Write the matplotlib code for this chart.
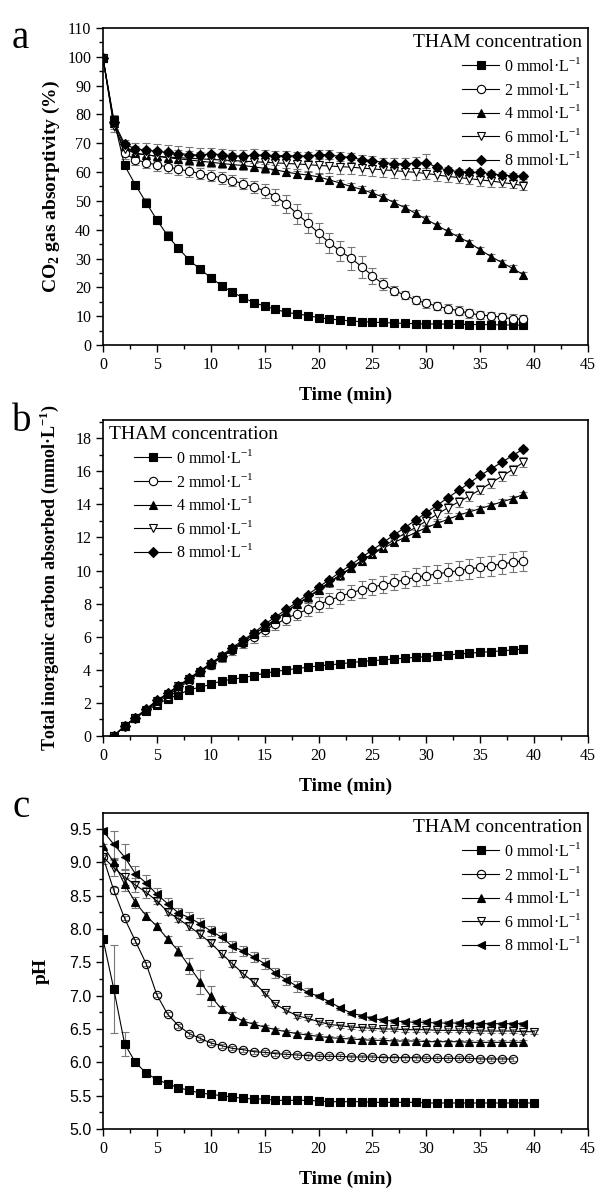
import matplotlib
matplotlib.use("Agg")
import matplotlib.pyplot as plt
from matplotlib.ticker import MultipleLocator

plt.rcParams['font.family'] = ['Liberation Serif', 'DejaVu Serif']
plt.rcParams['mathtext.fontset'] = 'custom'
plt.rcParams['mathtext.rm'] = 'Liberation Serif'
plt.rcParams['mathtext.bf'] = 'Liberation Serif:bold'

# ---- panel a: CO2 gas absorptivity (%) ----
a_t = list(range(0, 40))
a_sq = [99.5, 78.2, 62.3, 55.6, 49.4, 43.4, 37.9, 33.5, 29.5, 26.3,
        23.4, 20.6, 18.3, 16.4, 14.7, 13.5, 12.4, 11.3, 10.8, 10.2,
        9.5, 9.0, 8.7, 8.3, 8.1, 7.9, 7.8, 7.6, 7.5, 7.4,
        7.3, 7.3, 7.2, 7.2, 7.1, 7.1, 7.0, 7.0, 6.9, 6.9]
a_ci = [99.5, 77.0, 66.5, 64.3, 63.3, 62.5, 61.8, 61.0, 60.3, 59.5,
        58.8, 58.0, 57.0, 56.0, 54.8, 53.5, 51.5, 49.0, 45.5, 42.3,
        38.8, 35.5, 32.6, 30.1, 27.2, 24.0, 21.1, 18.9, 17.3, 15.6,
        14.5, 13.5, 12.6, 11.9, 11.0, 10.4, 10.1, 9.6, 9.1, 8.9]
a_tu = [99.5, 77.0, 69.0, 66.5, 66.0, 65.5, 65.0, 64.6, 64.2, 63.8,
        63.4, 63.0, 62.6, 62.3, 61.8, 61.3, 60.8, 60.0, 59.4, 59.0,
        58.3, 57.3, 56.2, 55.0, 54.0, 52.7, 51.3, 49.4, 47.7, 45.7,
        43.6, 41.5, 39.4, 37.5, 35.5, 33.0, 30.7, 28.6, 26.6, 24.4]
a_td = [99.5, 76.0, 68.0, 66.5, 66.0, 65.5, 65.2, 65.0, 64.8, 64.6,
        64.4, 64.2, 64.0, 63.8, 63.6, 63.4, 63.2, 63.0, 62.8, 62.6,
        62.3, 62.1, 61.9, 61.7, 61.4, 61.1, 60.8, 60.5, 60.2, 59.9,
        59.5, 59.0, 58.5, 58.1, 57.7, 57.3, 56.9, 56.4, 55.9, 55.3]
a_di = [99.5, 77.5, 69.8, 68.0, 67.6, 67.2, 66.8, 66.4, 66.1, 65.9,
        66.4, 66.0, 65.7, 65.5, 66.0, 65.8, 65.7, 65.7, 65.6, 65.6,
        66.0, 66.0, 65.4, 65.1, 64.3, 64.0, 63.3, 62.9, 62.9, 63.1,
        63.3, 61.6, 60.6, 60.2, 59.9, 59.9, 59.4, 59.0, 58.7, 58.5]
a_e_sq = [0.5, 1.5, 1.0, 1.0, 1.5, 1.5, 1.5, 1.2, 1.2, 1.2,
          1.2, 1.0, 0.8, 0.8, 0.6, 0.6, 0.5, 0.5, 0.5, 0.5,
          0.5, 0.4, 0.4, 0.4, 0.4, 0.4, 0.4, 0.4, 0.4, 0.4,
          0.4, 0.4, 0.4, 0.4, 0.4, 0.4, 0.4, 0.4, 0.4, 0.4]
a_e_ci = [0.5, 2.0, 2.0, 2.0, 2.0, 2.0, 2.0, 2.0, 2.0, 2.0,
          2.0, 2.0, 2.0, 2.0, 2.0, 2.5, 2.8, 3.2, 3.5, 3.5,
          3.5, 3.5, 3.5, 4.0, 3.8, 2.8, 2.0, 1.5, 1.5, 1.5,
          1.5, 1.5, 1.5, 1.5, 1.5, 1.5, 1.5, 1.5, 1.5, 1.5]
a_e_tu = [0.5, 1.5, 1.5, 1.5, 1.5, 1.5, 1.5, 1.5, 1.5, 1.5,
          1.5, 1.5, 1.5, 1.5, 1.5, 1.5, 1.5, 1.5, 1.5, 1.5,
          1.2, 1.2, 1.2, 1.2, 1.2, 1.0, 1.0, 1.0, 1.0, 1.0,
          1.0, 1.0, 1.0, 1.0, 1.0, 1.0, 1.0, 1.0, 1.0, 1.0]
a_e_td = [0.5, 2.0, 2.5, 2.5, 2.5, 2.5, 2.5, 2.5, 2.5, 2.5,
          2.5, 2.5, 2.5, 2.5, 2.5, 2.5, 2.5, 2.5, 2.5, 2.5,
          2.5, 2.5, 2.5, 2.5, 2.5, 2.5, 2.5, 2.5, 2.5, 2.5,
          2.0, 2.0, 2.0, 2.0, 2.0, 2.0, 2.0, 1.5, 1.5, 1.5]
a_e_di = [0.5, 1.5, 1.5, 2.0, 2.5, 2.5, 2.5, 2.5, 2.5, 2.5,
          2.0, 2.0, 2.0, 2.0, 2.0, 2.0, 1.5, 1.5, 1.5, 1.5,
          1.5, 1.5, 1.5, 1.5, 1.5, 1.5, 1.5, 2.0, 2.0, 2.0,
          3.0, 1.0, 1.0, 1.0, 1.0, 1.0, 1.0, 1.0, 1.0, 1.0]

# ---- panel b: total inorganic carbon absorbed ----
b_t = list(range(1, 40))
b_sq = [0, 0.6, 1.1, 1.5, 1.9, 2.25, 2.5, 2.8, 2.95, 3.13,
        3.33, 3.43, 3.53, 3.65, 3.8, 3.9, 4.0, 4.08, 4.16, 4.24,
        4.3, 4.36, 4.44, 4.5, 4.56, 4.6, 4.66, 4.7, 4.76, 4.8,
        4.86, 4.9, 4.96, 5.0, 5.06, 5.1, 5.15, 5.2, 5.26]
b_ci = [0, 0.6, 1.1, 1.55, 2.0, 2.45, 2.9, 3.35, 3.85, 4.3,
        4.75, 5.2, 5.6, 6.0, 6.4, 6.75, 7.1, 7.4, 7.65, 7.95,
        8.2, 8.45, 8.65, 8.85, 9.0, 9.15, 9.3, 9.45, 9.6, 9.7,
        9.8, 9.9, 10.0, 10.1, 10.2, 10.3, 10.4, 10.5, 10.6]
b_tu = [0, 0.6, 1.1, 1.6, 2.1, 2.55, 3.0, 3.45, 3.9, 4.35,
        4.8, 5.25, 5.7, 6.15, 6.6, 7.05, 7.5, 8.0, 8.4, 8.85,
        9.3, 9.75, 10.15, 10.6, 11.0, 11.35, 11.7, 12.0, 12.3, 12.6,
        12.85, 13.1, 13.35, 13.55, 13.75, 13.95, 14.15, 14.35, 14.6]
b_td = [0, 0.6, 1.1, 1.6, 2.1, 2.55, 3.0, 3.45, 3.9, 4.35,
        4.8, 5.25, 5.7, 6.15, 6.6, 7.05, 7.5, 7.95, 8.35, 8.8,
        9.25, 9.7, 10.15, 10.6, 11.0, 11.45, 11.85, 12.25, 12.6, 13.0,
        13.4, 13.8, 14.15, 14.5, 14.9, 15.3, 15.7, 16.1, 16.55]
b_di = [0, 0.6, 1.1, 1.65, 2.15, 2.6, 3.05, 3.5, 3.95, 4.4,
        4.85, 5.35, 5.8, 6.25, 6.75, 7.2, 7.65, 8.1, 8.55, 9.0,
        9.45, 9.9, 10.35, 10.8, 11.25, 11.7, 12.15, 12.6, 13.05, 13.5,
        13.95, 14.4, 14.85, 15.3, 15.75, 16.15, 16.55, 16.95, 17.35]
b_e_sq = [0.02, 0.05, 0.05, 0.08, 0.08, 0.1, 0.1, 0.1, 0.1, 0.1,
          0.1, 0.1, 0.1, 0.1, 0.1, 0.1, 0.1, 0.1, 0.1, 0.1,
          0.1, 0.1, 0.1, 0.1, 0.1, 0.1, 0.1, 0.1, 0.1, 0.1,
          0.1, 0.1, 0.1, 0.1, 0.1, 0.1, 0.1, 0.1, 0.1]
b_e_ci = [0, 0.05, 0.1, 0.1, 0.15, 0.15, 0.2, 0.2, 0.25, 0.25,
          0.3, 0.3, 0.3, 0.35, 0.35, 0.35, 0.4, 0.4, 0.4, 0.45,
          0.45, 0.45, 0.45, 0.5, 0.5, 0.5, 0.5, 0.5, 0.55, 0.55,
          0.55, 0.55, 0.55, 0.6, 0.6, 0.6, 0.6, 0.6, 0.6]
b_e_tu = [0.02, 0.05, 0.05, 0.08, 0.08, 0.1, 0.1, 0.1, 0.1, 0.12,
          0.12, 0.12, 0.12, 0.15, 0.15, 0.15, 0.15, 0.15, 0.15, 0.15,
          0.15, 0.15, 0.15, 0.15, 0.15, 0.15, 0.15, 0.15, 0.15, 0.15,
          0.15, 0.15, 0.15, 0.15, 0.15, 0.15, 0.15, 0.15, 0.15]
b_e_td = [0.02, 0.05, 0.05, 0.08, 0.08, 0.1, 0.1, 0.1, 0.12, 0.12,
          0.15, 0.15, 0.15, 0.18, 0.18, 0.2, 0.2, 0.2, 0.22, 0.22,
          0.22, 0.25, 0.25, 0.25, 0.25, 0.28, 0.28, 0.28, 0.3, 0.3,
          0.3, 0.3, 0.3, 0.3, 0.3, 0.3, 0.3, 0.3, 0.3]
b_e_di = [0.02, 0.05, 0.05, 0.08, 0.08, 0.1, 0.1, 0.1, 0.1, 0.1,
          0.1, 0.1, 0.1, 0.1, 0.1, 0.1, 0.1, 0.1, 0.1, 0.1,
          0.1, 0.1, 0.1, 0.1, 0.1, 0.1, 0.1, 0.1, 0.1, 0.1,
          0.1, 0.1, 0.1, 0.1, 0.1, 0.1, 0.1, 0.1, 0.1]

# ---- panel c: pH ----
c_t_sq = list(range(0, 41))
c_t_ci = list(range(0, 39))
c_t_tu = list(range(0, 40))
c_t_td = list(range(0, 41))
c_t_lt = list(range(0, 40))
c_sq = [7.85, 7.1, 6.28, 6.0, 5.84, 5.74, 5.68, 5.62, 5.58, 5.54,
        5.52, 5.5, 5.48, 5.46, 5.45, 5.45, 5.43, 5.43, 5.43, 5.43,
        5.42, 5.41, 5.41, 5.41, 5.41, 5.4, 5.4, 5.4, 5.4, 5.4,
        5.39, 5.39, 5.39, 5.39, 5.39, 5.39, 5.39, 5.39, 5.39, 5.39, 5.39]
c_ci = [9.08, 8.58, 8.16, 7.82, 7.48, 7.01, 6.72, 6.55, 6.43, 6.36,
        6.29, 6.25, 6.21, 6.19, 6.16, 6.15, 6.13, 6.12, 6.11, 6.1,
        6.09, 6.09, 6.09, 6.08, 6.08, 6.08, 6.07, 6.07, 6.07, 6.07,
        6.06, 6.06, 6.06, 6.06, 6.06, 6.05, 6.05, 6.05, 6.05]
c_tu = [9.25, 9.0, 8.67, 8.4, 8.2, 8.04, 7.85, 7.67, 7.44, 7.21,
        6.99, 6.8, 6.7, 6.62, 6.57, 6.53, 6.49, 6.46, 6.43, 6.41,
        6.39, 6.37, 6.36, 6.35, 6.34, 6.33, 6.33, 6.32, 6.32, 6.32,
        6.31, 6.31, 6.31, 6.31, 6.3, 6.3, 6.3, 6.3, 6.3, 6.3]
c_td = [9.08, 8.92, 8.78, 8.66, 8.55, 8.42, 8.26, 8.15, 8.04, 7.92,
        7.79, 7.63, 7.48, 7.33, 7.2, 7.04, 6.87, 6.78, 6.7, 6.66,
        6.61, 6.57, 6.55, 6.53, 6.52, 6.51, 6.5, 6.5, 6.49, 6.49,
        6.49, 6.48, 6.48, 6.48, 6.48, 6.47, 6.47, 6.47, 6.47, 6.46, 6.46]
c_lt = [9.47, 9.27, 9.08, 8.83, 8.69, 8.52, 8.38, 8.24, 8.17, 8.08,
        7.97, 7.88, 7.74, 7.67, 7.58, 7.48, 7.34, 7.24, 7.14, 7.05,
        6.99, 6.91, 6.82, 6.74, 6.7, 6.66, 6.63, 6.62, 6.61, 6.6,
        6.6, 6.59, 6.59, 6.59, 6.58, 6.58, 6.58, 6.58, 6.58, 6.58]
c_e_sq = [0.02, 0.66, 0.18, 0.03, 0.02, 0.02, 0.02, 0.02, 0.02, 0.02,
          0.02, 0.02, 0.02, 0.02, 0.02, 0.02, 0.02, 0.02, 0.02, 0.02,
          0.02, 0.02, 0.02, 0.02, 0.02, 0.02, 0.02, 0.02, 0.02, 0.02,
          0.02, 0.02, 0.02, 0.02, 0.02, 0.02, 0.02, 0.02, 0.02, 0.02, 0.02]
c_e_ci = [0.03, 0.05, 0.03, 0.03, 0.03, 0.03, 0.03, 0.03, 0.03, 0.03,
          0.03, 0.03, 0.03, 0.03, 0.03, 0.03, 0.03, 0.03, 0.03, 0.03,
          0.03, 0.03, 0.03, 0.03, 0.03, 0.03, 0.03, 0.03, 0.03, 0.03,
          0.03, 0.03, 0.03, 0.03, 0.03, 0.03, 0.03, 0.03, 0.03]
c_e_tu = [0.03, 0.05, 0.1, 0.08, 0.05, 0.05, 0.05, 0.08, 0.12, 0.18,
          0.15, 0.05, 0.05, 0.03, 0.03, 0.03, 0.03, 0.03, 0.03, 0.03,
          0.03, 0.03, 0.03, 0.03, 0.03, 0.03, 0.03, 0.03, 0.03, 0.03,
          0.03, 0.03, 0.03, 0.03, 0.03, 0.03, 0.03, 0.03, 0.03, 0.03]
c_e_td = [0.1, 0.12, 0.12, 0.1, 0.08, 0.05, 0.05, 0.05, 0.05, 0.05,
          0.05, 0.05, 0.05, 0.05, 0.05, 0.03, 0.03, 0.03, 0.03, 0.03,
          0.03, 0.03, 0.03, 0.03, 0.03, 0.03, 0.03, 0.03, 0.03, 0.03,
          0.03, 0.03, 0.03, 0.03, 0.03, 0.03, 0.03, 0.03, 0.03, 0.03, 0.03]
c_e_lt = [0.05, 0.2, 0.2, 0.12, 0.12, 0.1, 0.08, 0.08, 0.08, 0.08,
          0.08, 0.08, 0.08, 0.08, 0.08, 0.08, 0.08, 0.08, 0.08, 0.06,
          0.03, 0.03, 0.03, 0.03, 0.03, 0.03, 0.03, 0.03, 0.03, 0.03,
          0.03, 0.03, 0.03, 0.03, 0.03, 0.03, 0.03, 0.03, 0.03, 0.03]

labels = [r'0 mmol·L$^{\mathregular{-1}}$', r'2 mmol·L$^{\mathregular{-1}}$',
          r'4 mmol·L$^{\mathregular{-1}}$', r'6 mmol·L$^{\mathregular{-1}}$',
          r'8 mmol·L$^{\mathregular{-1}}$']

fig = plt.figure(figsize=(6, 11.97), dpi=100)
ax_a = fig.add_axes([0.1717, 0.7118, 0.8083, 0.2648])
ax_b = fig.add_axes([0.1717, 0.3851, 0.8083, 0.2640])
ax_c = fig.add_axes([0.1717, 0.0568, 0.8083, 0.2640])


def draw(ax, series):
    for t, y, e, m, fc, ms in series:
        ax.errorbar(t, y, yerr=e, fmt='none', ecolor='#777777', elinewidth=0.8,
                    capsize=3, capthick=0.8, zorder=2)
    handles = []
    for (t, y, e, m, fc, ms), lab in zip(series, labels):
        h, = ax.plot(t, y, color='black', lw=0.8, marker=m, markersize=ms,
                     markerfacecolor=fc, markeredgecolor='black', markeredgewidth=0.8,
                     label=lab, zorder=3)
        handles.append(h)
    return handles


def style(ax, xlim, ylim, ymaj, ymin, tickfont):
    ax.set_xlim(*xlim)
    ax.set_ylim(*ylim)
    ax.xaxis.set_major_locator(MultipleLocator(5))
    ax.xaxis.set_minor_locator(MultipleLocator(2.5))
    ax.yaxis.set_major_locator(MultipleLocator(ymaj))
    ax.yaxis.set_minor_locator(MultipleLocator(ymin))
    ax.tick_params(which='major', direction='out', length=5, width=1, labelsize=11.5)
    ax.tick_params(which='minor', direction='out', length=3, width=1)
    for s in ax.spines.values():
        s.set_linewidth(1.2)
    for lab in ax.get_xticklabels():
        lab.set_family('Liberation Serif')
    for lab in ax.get_yticklabels():
        lab.set_family(tickfont)
    ax.set_xlabel('Time (min)', fontsize=14, fontweight='bold', labelpad=10)


def legend(ax, handles, loc, align):
    ax.legend(handles=handles, title='THAM concentration', loc=loc,
              frameon=False, fontsize=11.5, title_fontsize=14, handlelength=2.3,
              labelspacing=0.35, handletextpad=0.3, alignment=align,
              borderaxespad=0.2, borderpad=0.2)


# panel a
ha = draw(ax_a, [(a_t, a_sq, a_e_sq, 's', 'black', 5.5),
                 (a_t, a_ci, a_e_ci, 'o', 'white', 6),
                 (a_t, a_tu, a_e_tu, '^', 'black', 6),
                 (a_t, a_td, a_e_td, 'v', 'white', 6),
                 (a_t, a_di, a_e_di, 'D', 'black', 5)])
style(ax_a, (0, 45), (0, 110), 10, 5, 'Liberation Serif')
ax_a.set_ylabel(r'CO$_\mathbf{2}$ gas absorptivity (%)', fontsize=14, fontweight='bold')
legend(ax_a, ha, 'upper right', 'right')

# panel b
hb = draw(ax_b, [(b_t, b_sq, b_e_sq, 's', 'black', 5.5),
                 (b_t, b_ci, b_e_ci, 'o', 'white', 6),
                 (b_t, b_tu, b_e_tu, '^', 'black', 6),
                 (b_t, b_td, b_e_td, 'v', 'white', 6),
                 (b_t, b_di, b_e_di, 'D', 'black', 5)])
style(ax_b, (0, 45), (0, 19.1), 2, 1, 'Liberation Serif')
ax_b.set_ylabel(r'Total inorganic carbon absorbed (mmol·L$^\mathbf{-1}$)',
                fontsize=13, fontweight='bold', labelpad=10)
legend(ax_b, hb, 'upper left', 'center')

# panel c
hc = draw(ax_c, [(c_t_sq, c_sq, c_e_sq, 's', 'black', 5.5),
                 (c_t_ci, c_ci, c_e_ci, 'o', 'none', 6),
                 (c_t_tu, c_tu, c_e_tu, '^', 'black', 6),
                 (c_t_td, c_td, c_e_td, 'v', 'none', 6),
                 (c_t_lt, c_lt, c_e_lt, '<', 'black', 6)])
style(ax_c, (0, 45), (5.0, 9.74), 0.5, 0.25, 'Liberation Sans')
ax_c.yaxis.set_major_formatter(plt.FormatStrFormatter('%.1f'))
for lab in ax_c.get_yticklabels():
    lab.set_family('Liberation Sans')
ax_c.set_ylabel('pH', fontsize=14, fontweight='bold', labelpad=14)
legend(ax_c, hc, 'upper right', 'right')

fig.text(0.02, 0.968, 'a', fontsize=28, va='center')
fig.text(0.02, 0.648, 'b', fontsize=28, va='center')
fig.text(0.02, 0.325, 'c', fontsize=28, va='center')

fig.savefig('out.png', dpi=100)
